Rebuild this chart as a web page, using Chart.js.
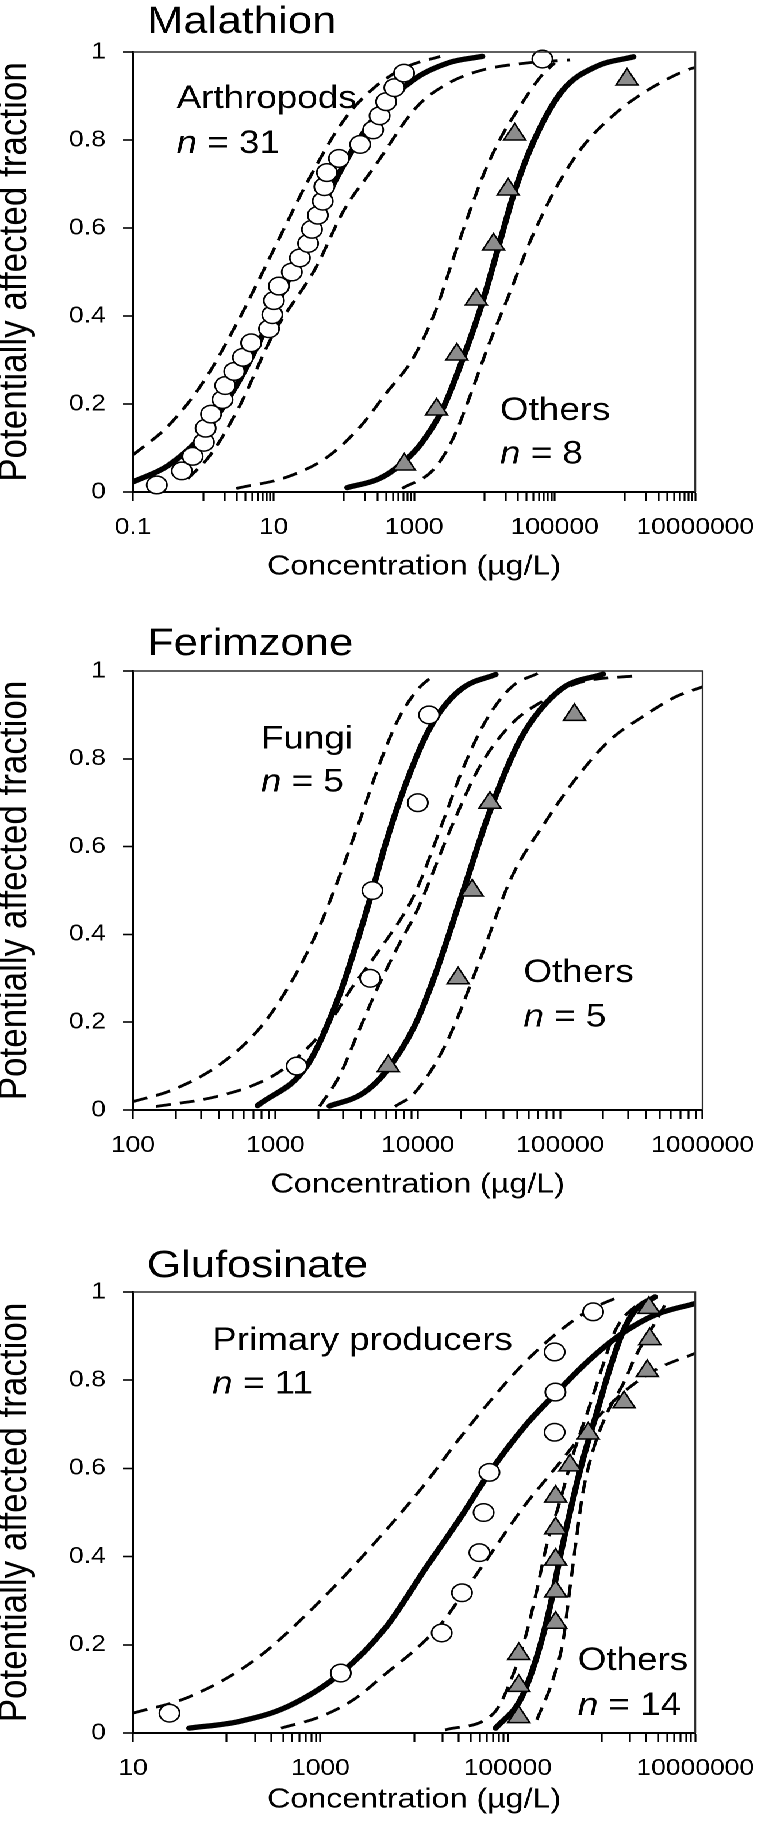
<!DOCTYPE html>
<html><head><meta charset="utf-8">
<script src="https://cdn.jsdelivr.net/npm/chart.js@4.4.1/dist/chart.umd.min.js"></script>
<style>
html,body{margin:0;padding:0;background:#fff;}
body{width:769px;height:1829px;position:relative;overflow:hidden;}
#wrap{position:absolute;left:0;top:0;width:669px;height:1829px;transform-origin:0 0;}
#wrap canvas{position:absolute;left:0;}
</style></head>
<body><div id="wrap">
<canvas id="c1" width="669" height="590" style="top:0px"></canvas>
<canvas id="c2" width="669" height="620" style="top:590px"></canvas>
<canvas id="c3" width="669" height="619" style="top:1210px"></canvas>
</div>
<script>
// ================= DATA =================
// ---- Malathion ----
const malXLabels = [0.1, 10, 1000, 100000, 10000000];
const malArthX = [0.218,0.495,0.705,1.02,1.08,1.29,1.88,2.05,2.76,3.67,4.80,8.62,9.6,10.1,11.9,18.2,23.7,31.0,35.2,42.7,50.1,52.8,57.5,85.3,171,261,323,400,523,719,66800];
const malArthY = [0.016,0.048,0.081,0.113,0.145,0.177,0.210,0.242,0.274,0.306,0.339,0.371,0.403,0.435,0.468,0.500,0.532,0.565,0.597,0.629,0.661,0.694,0.726,0.758,0.790,0.823,0.855,0.887,0.919,0.952,0.984];
const malOthX = [725,2085,4050,7670,13500,21800,27000,1070000];
const malOthY = [0.0625,0.1875,0.3125,0.4375,0.5625,0.6875,0.8125,0.9375];
const malArthFitX = [0.1,0.316,1,3.16,10,31.6,100,316,1000,3160,9330];
const malArthFitY = [0.023,0.060,0.132,0.250,0.409,0.584,0.744,0.864,0.938,0.976,0.990];
const malArthLoX = [0.1,0.316,1,3.16,10,31.6,100,275,800,2350];
const malArthLoY = [0.084,0.15,0.25,0.39,0.55,0.71,0.845,0.92,0.967,0.99];
const malArthHiX = [0.6,1.26,3.16,10,40,100,275,1100,3160,9330,40000,166000];
const malArthHiY = [0.03,0.084,0.19,0.36,0.51,0.64,0.74,0.876,0.93,0.959,0.975,0.982];
const malOthFitX = [112,316,617,1259,2570,5130,9330,15850,26900,53700,131800,389000,1320000];
const malOthFitY = [0.01,0.03,0.06,0.11,0.19,0.31,0.43,0.557,0.683,0.807,0.914,0.967,0.989];
const malOthLoX = [2.95,16.2,58.9,170,398,933,2000,3550,6030,10230,17800,30200,63100,100000];
const malOthLoY = [0.008,0.035,0.08,0.148,0.224,0.30,0.41,0.527,0.633,0.73,0.81,0.87,0.944,0.975];
const malOthHiX = [676,1862,3548,6310,11220,21880,45700,107000,251000,741000,2140000,7590000,10000000];
const malOthHiY = [0.008,0.05,0.12,0.22,0.33,0.444,0.573,0.694,0.785,0.861,0.914,0.959,0.965];

// ---- Ferimzone ----
const ferXLabels = [100, 1000, 10000, 100000, 1000000];
const ferFungiX = [1410,4630,4800,10000,12000];
const ferFungiY = [0.1,0.3,0.5,0.7,0.9];
const ferOthX = [6200,19200,24100,32100,126000];
const ferOthY = [0.1,0.3,0.5,0.7,0.9];
const ferFungiFitX = [750,1660,2800,4060,4800,5860,7640,11040,14390,20800,35200];
const ferFungiFitY = [0.01,0.1,0.26,0.42,0.5,0.6,0.714,0.843,0.908,0.962,0.992];
const ferFungiLoX = [100,190.5,417,794,1340,2040,2800,3850,5270,7240,9930,12900];
const ferFungiLoY = [0.019,0.046,0.106,0.19,0.30,0.418,0.53,0.653,0.78,0.888,0.957,0.99];
const ferFungiHiX = [145,380,794,1200,2290,3470,5250,9440,15140,20900,30200,45700,70000];
const ferFungiHiY = [0.008,0.03,0.064,0.099,0.19,0.28,0.36,0.49,0.66,0.78,0.888,0.964,0.995];
const ferOthFitX = [2400,4070,5890,9440,12900,20900,31600,53700,101000,200000];
const ferOthFitY = [0.009,0.037,0.085,0.19,0.298,0.5,0.675,0.85,0.958,0.993];
const ferOthLoX = [2040,2800,3850,5250,7240,9930,17000,27200,45700,77600,131800,363000];
const ferOthLoY = [0.008,0.076,0.18,0.28,0.372,0.456,0.64,0.782,0.88,0.934,0.972,0.99];
const ferOthHiX = [6920,9440,15850,27200,45700,77600,131800,223900,380000,645700,1000000];
const ferOthHiY = [0.008,0.038,0.152,0.34,0.531,0.653,0.759,0.843,0.896,0.941,0.964];

// ---- Glufosinate ----
const gluXLabels = [10, 1000, 100000, 10000000];
const gluPrimX = [24.5,1650,19700,32400,49700,55200,63600,316000,322000,316000,813000];
const gluPrimY = [0.045,0.136,0.227,0.318,0.409,0.5,0.591,0.682,0.773,0.864,0.955];
const gluOthX = [131000,131000,131000,324000,324000,324000,324000,324000,460000,720000,1740000,3080000,3270000,3200000];
const gluOthY = [0.036,0.107,0.179,0.25,0.321,0.393,0.464,0.536,0.607,0.679,0.75,0.821,0.893,0.964];
const gluPrimFitX = [39.8,135,447,1660,5010,13200,31600,63100,158000,324000,741000,1660000,3720000,10000000];
const gluPrimFitY = [0.011,0.026,0.06,0.136,0.24,0.373,0.49,0.589,0.70,0.77,0.846,0.906,0.948,0.974];
const gluPrimLoX = [10,39.8,200,1000,5010,13200,29500,66100,148000,331000,741000,1410000];
const gluPrimLoY = [0.045,0.082,0.166,0.30,0.46,0.566,0.664,0.755,0.838,0.906,0.959,0.986];
const gluPrimHiX = [380,1000,2240,5010,11200,19700,29500,66100,148000,331000,741000,1660000,3720000,10000000];
const gluPrimHiY = [0.011,0.037,0.075,0.135,0.196,0.249,0.30,0.407,0.513,0.604,0.695,0.77,0.823,0.861];
const gluOthFitX = [74100,136000,204000,282000,355000,457000,631000,871000,1200000,1660000,2290000,3720000];
const gluOthFitY = [0.011,0.075,0.173,0.286,0.392,0.498,0.619,0.72,0.82,0.906,0.959,0.989];
const gluOthLoX = [21400,70800,115000,158000,204000,257000,355000,490000,741000,1020000,1410000,2290000,4370000];
const gluOthLoY = [0.007,0.045,0.135,0.226,0.324,0.422,0.521,0.627,0.74,0.83,0.914,0.967,0.993];
const gluOthHiX = [204000,302000,389000,457000,537000,631000,794000,1100000,1780000,2290000,3720000,5010000];
const gluOthHiY = [0.03,0.12,0.21,0.324,0.438,0.544,0.634,0.717,0.80,0.853,0.93,0.98];

const yTickLabels = ['0','0.2','0.4','0.6','0.8','1'];
const yTitle = 'Potentially affected fraction';
const xTitle = 'Concentration (µg/L)';

// ================= RENDERING =================
const STRETCH = 769 / 669;
document.getElementById('wrap').style.transform = 'scaleX(' + STRETCH + ')';
const FONT = '"Liberation Sans", Arial, Helvetica, sans-serif';

function tidy(v){ return Number(v.toPrecision(8)); }
function tickValues(min, max, mode){
  const out = [];
  const lo = Math.round(Math.log10(min)), hi = Math.round(Math.log10(max));
  if (mode === 'block2') {
    for (let e = lo; e < hi; e += 2) {
      const b = Math.pow(10, e);
      out.push(tidy(b));
      for (let k = 1; k <= 9; k++) out.push(tidy(b * 10 * k));
    }
    out.push(tidy(Math.pow(10, hi)));
  } else {
    for (let e = lo; e < hi; e++) {
      const b = Math.pow(10, e);
      for (let k = 1; k <= 9; k++) out.push(tidy(b * k));
    }
    out.push(tidy(Math.pow(10, hi)));
  }
  return out;
}
function pts(xs, ys){ return xs.map((v,i)=>({x:v, y:ys[i]})); }

const decor = {
  id: 'decor',
  afterDraw(chart, args, o) {
    const {ctx, chartArea: a, scales} = chart;
    ctx.save();
    ctx.strokeStyle = '#2a2a2a'; ctx.lineWidth = 1.6;
    ctx.beginPath(); ctx.moveTo(a.left, a.top); ctx.lineTo(a.right, a.top); ctx.lineTo(a.right, a.bottom); ctx.stroke();
    ctx.fillStyle = '#000'; ctx.textAlign = 'left'; ctx.textBaseline = 'alphabetic';
    ctx.font = '38px ' + FONT;
    ctx.fillText(o.title, a.left + o.titleDx, a.top - o.titleDy);
    for (const lab of o.labels) {
      let x = scales.x.getPixelForValue(lab.x);
      const y = scales.y.getPixelForValue(lab.y);
      for (const part of lab.parts) {
        ctx.font = (part.i ? 'italic ' : '') + '32px ' + FONT;
        ctx.fillText(part.t, x, y);
        x += ctx.measureText(part.t).width;
      }
    }
    ctx.restore();
  }
};

function makePanel(p) {
  const yW = 133 / STRETCH;
  const padRight = 669 - p.rightPage / STRETCH;
  const xTitleLH = 28 * 1.2;
  const xH = p.xTitleCenter + xTitleLH / 2 - p.bottom;
  const padBottom = p.H - p.bottom - xH;
  const ticksX = tickValues(p.xMin, p.xMax, p.mode);
  const labelled = p.xLabels;
  const ds = [];
  p.points.forEach(s => ds.push({
    data: pts(s.x, s.y), showLine: false, pointStyle: s.style, pointRadius: s.r,
    pointBackgroundColor: s.fill, pointBorderColor: '#000', pointBorderWidth: 1.5,
    order: 0, clip: false
  }));
  p.lines.forEach(l => ds.push({
    data: pts(l.x, l.y), showLine: true, pointRadius: 0, borderColor: '#000',
    borderWidth: l.dash ? 2.8 : 5.3, borderDash: l.dash ? [13, 8] : [],
    borderCapStyle: l.dash ? 'butt' : 'round', cubicInterpolationMode: 'monotone',
    fill: false, order: 1
  }));
  new Chart(document.getElementById(p.canvas), {
    type: 'line',
    data: { datasets: ds },
    plugins: [decor],
    options: {
      responsive: false, animation: false, devicePixelRatio: 2, events: [],
      layout: { padding: { left: 0, top: p.top, right: padRight, bottom: padBottom } },
      plugins: { legend: { display: false }, tooltip: { enabled: false },
        decor: { title: p.title, titleDx: 14 / STRETCH, titleDy: p.titleDy, labels: p.labels } },
      scales: {
        x: {
          type: 'logarithmic', min: p.xMin, max: p.xMax,
          afterBuildTicks: s => { s.ticks = ticksX.map(v => ({ value: v })); },
          afterFit: s => { s.height = xH; },
          ticks: { autoSkip: false, maxRotation: 0, minRotation: 0, padding: 13, color: '#000',
            font: { family: FONT, size: 23 },
            callback: v => { const m = labelled.find(l => Math.abs(v / l - 1) < 1e-6); return m === undefined ? '' : String(m); } },
          grid: { display: true, drawOnChartArea: false, drawTicks: true, tickLength: 9, tickColor: '#000', tickWidth: 1.6 },
          border: { display: true, color: '#000', width: 2 },
          title: { display: true, text: xTitle, color: '#000', font: { family: FONT, size: 28, lineHeight: 1.2 }, padding: 0 }
        },
        y: {
          type: 'linear', min: 0, max: 1,
          afterFit: s => { s.width = yW; },
          ticks: { stepSize: 0.2, padding: 15, color: '#000', font: { family: FONT, size: 23 },
            callback: v => yTickLabels[Math.round(v * 5)] },
          grid: { display: true, drawOnChartArea: false, drawTicks: true, tickLength: 8.7, tickColor: '#000', tickWidth: 1.6 },
          border: { display: true, color: '#000', width: 2 },
          title: { display: true, text: yTitle, color: '#000', font: { family: FONT, size: 35, lineHeight: 0.75 }, padding: 0 }
        }
      }
    }
  });
}

const CIRCLE = { style: 'circle', r: 8.8, fill: '#ffffff' };
const TRI = { style: 'triangle', r: 11, fill: '#8c8c8c' };

makePanel({
  canvas: 'c1', H: 590, top: 52, bottom: 492, rightPage: 708, xTitleCenter: 567,
  xMin: 0.1, xMax: 1e7, mode: 'block2', xLabels: malXLabels, title: 'Malathion', titleDy: 19,
  points: [ Object.assign({ x: malArthX, y: malArthY }, CIRCLE), Object.assign({ x: malOthX, y: malOthY }, TRI) ],
  lines: [
    { x: malArthFitX, y: malArthFitY }, { x: malArthLoX, y: malArthLoY, dash: true }, { x: malArthHiX, y: malArthHiY, dash: true },
    { x: malOthFitX, y: malOthFitY }, { x: malOthLoX, y: malOthLoY, dash: true }, { x: malOthHiX, y: malOthHiY, dash: true }
  ],
  labels: [
    { x: 0.418, y: 0.873, parts: [{ t: 'Arthropods' }] },
    { x: 0.418, y: 0.770, parts: [{ t: 'n', i: true }, { t: ' = 31' }] },
    { x: 16700, y: 0.164, parts: [{ t: 'Others' }] },
    { x: 16700, y: 0.065, parts: [{ t: 'n', i: true }, { t: ' = 8' }] }
  ]
});

makePanel({
  canvas: 'c2', H: 620, top: 81, bottom: 520, rightPage: 715, xTitleCenter: 595,
  xMin: 100, xMax: 1e6, mode: 'decade', xLabels: ferXLabels, title: 'Ferimzone', titleDy: 16,
  points: [ Object.assign({ x: ferFungiX, y: ferFungiY }, CIRCLE), Object.assign({ x: ferOthX, y: ferOthY }, TRI) ],
  lines: [
    { x: ferFungiFitX, y: ferFungiFitY }, { x: ferFungiLoX, y: ferFungiLoY, dash: true }, { x: ferFungiHiX, y: ferFungiHiY, dash: true },
    { x: ferOthFitX, y: ferOthFitY }, { x: ferOthLoX, y: ferOthLoY, dash: true }, { x: ferOthHiX, y: ferOthHiY, dash: true }
  ],
  labels: [
    { x: 791, y: 0.824, parts: [{ t: 'Fungi' }] },
    { x: 791, y: 0.725, parts: [{ t: 'n', i: true }, { t: ' = 5' }] },
    { x: 55200, y: 0.292, parts: [{ t: 'Others' }] },
    { x: 55200, y: 0.190, parts: [{ t: 'n', i: true }, { t: ' = 5' }] }
  ]
});

makePanel({
  canvas: 'c3', H: 619, top: 82, bottom: 523, rightPage: 705, xTitleCenter: 590,
  xMin: 10, xMax: 1e7, mode: 'block2', xLabels: gluXLabels, title: 'Glufosinate', titleDy: 15,
  points: [ Object.assign({ x: gluPrimX, y: gluPrimY }, CIRCLE), Object.assign({ x: gluOthX, y: gluOthY }, TRI) ],
  lines: [
    { x: gluPrimFitX, y: gluPrimFitY }, { x: gluPrimLoX, y: gluPrimLoY, dash: true }, { x: gluPrimHiX, y: gluPrimHiY, dash: true },
    { x: gluOthFitX, y: gluOthFitY }, { x: gluOthLoX, y: gluOthLoY, dash: true }, { x: gluOthHiX, y: gluOthHiY, dash: true }
  ],
  labels: [
    { x: 70.1, y: 0.868, parts: [{ t: 'Primary producers' }] },
    { x: 70.1, y: 0.770, parts: [{ t: 'n', i: true }, { t: ' = 11' }] },
    { x: 557000, y: 0.143, parts: [{ t: 'Others' }] },
    { x: 557000, y: 0.041, parts: [{ t: 'n', i: true }, { t: ' = 14' }] }
  ]
});
</script>
</body></html>
